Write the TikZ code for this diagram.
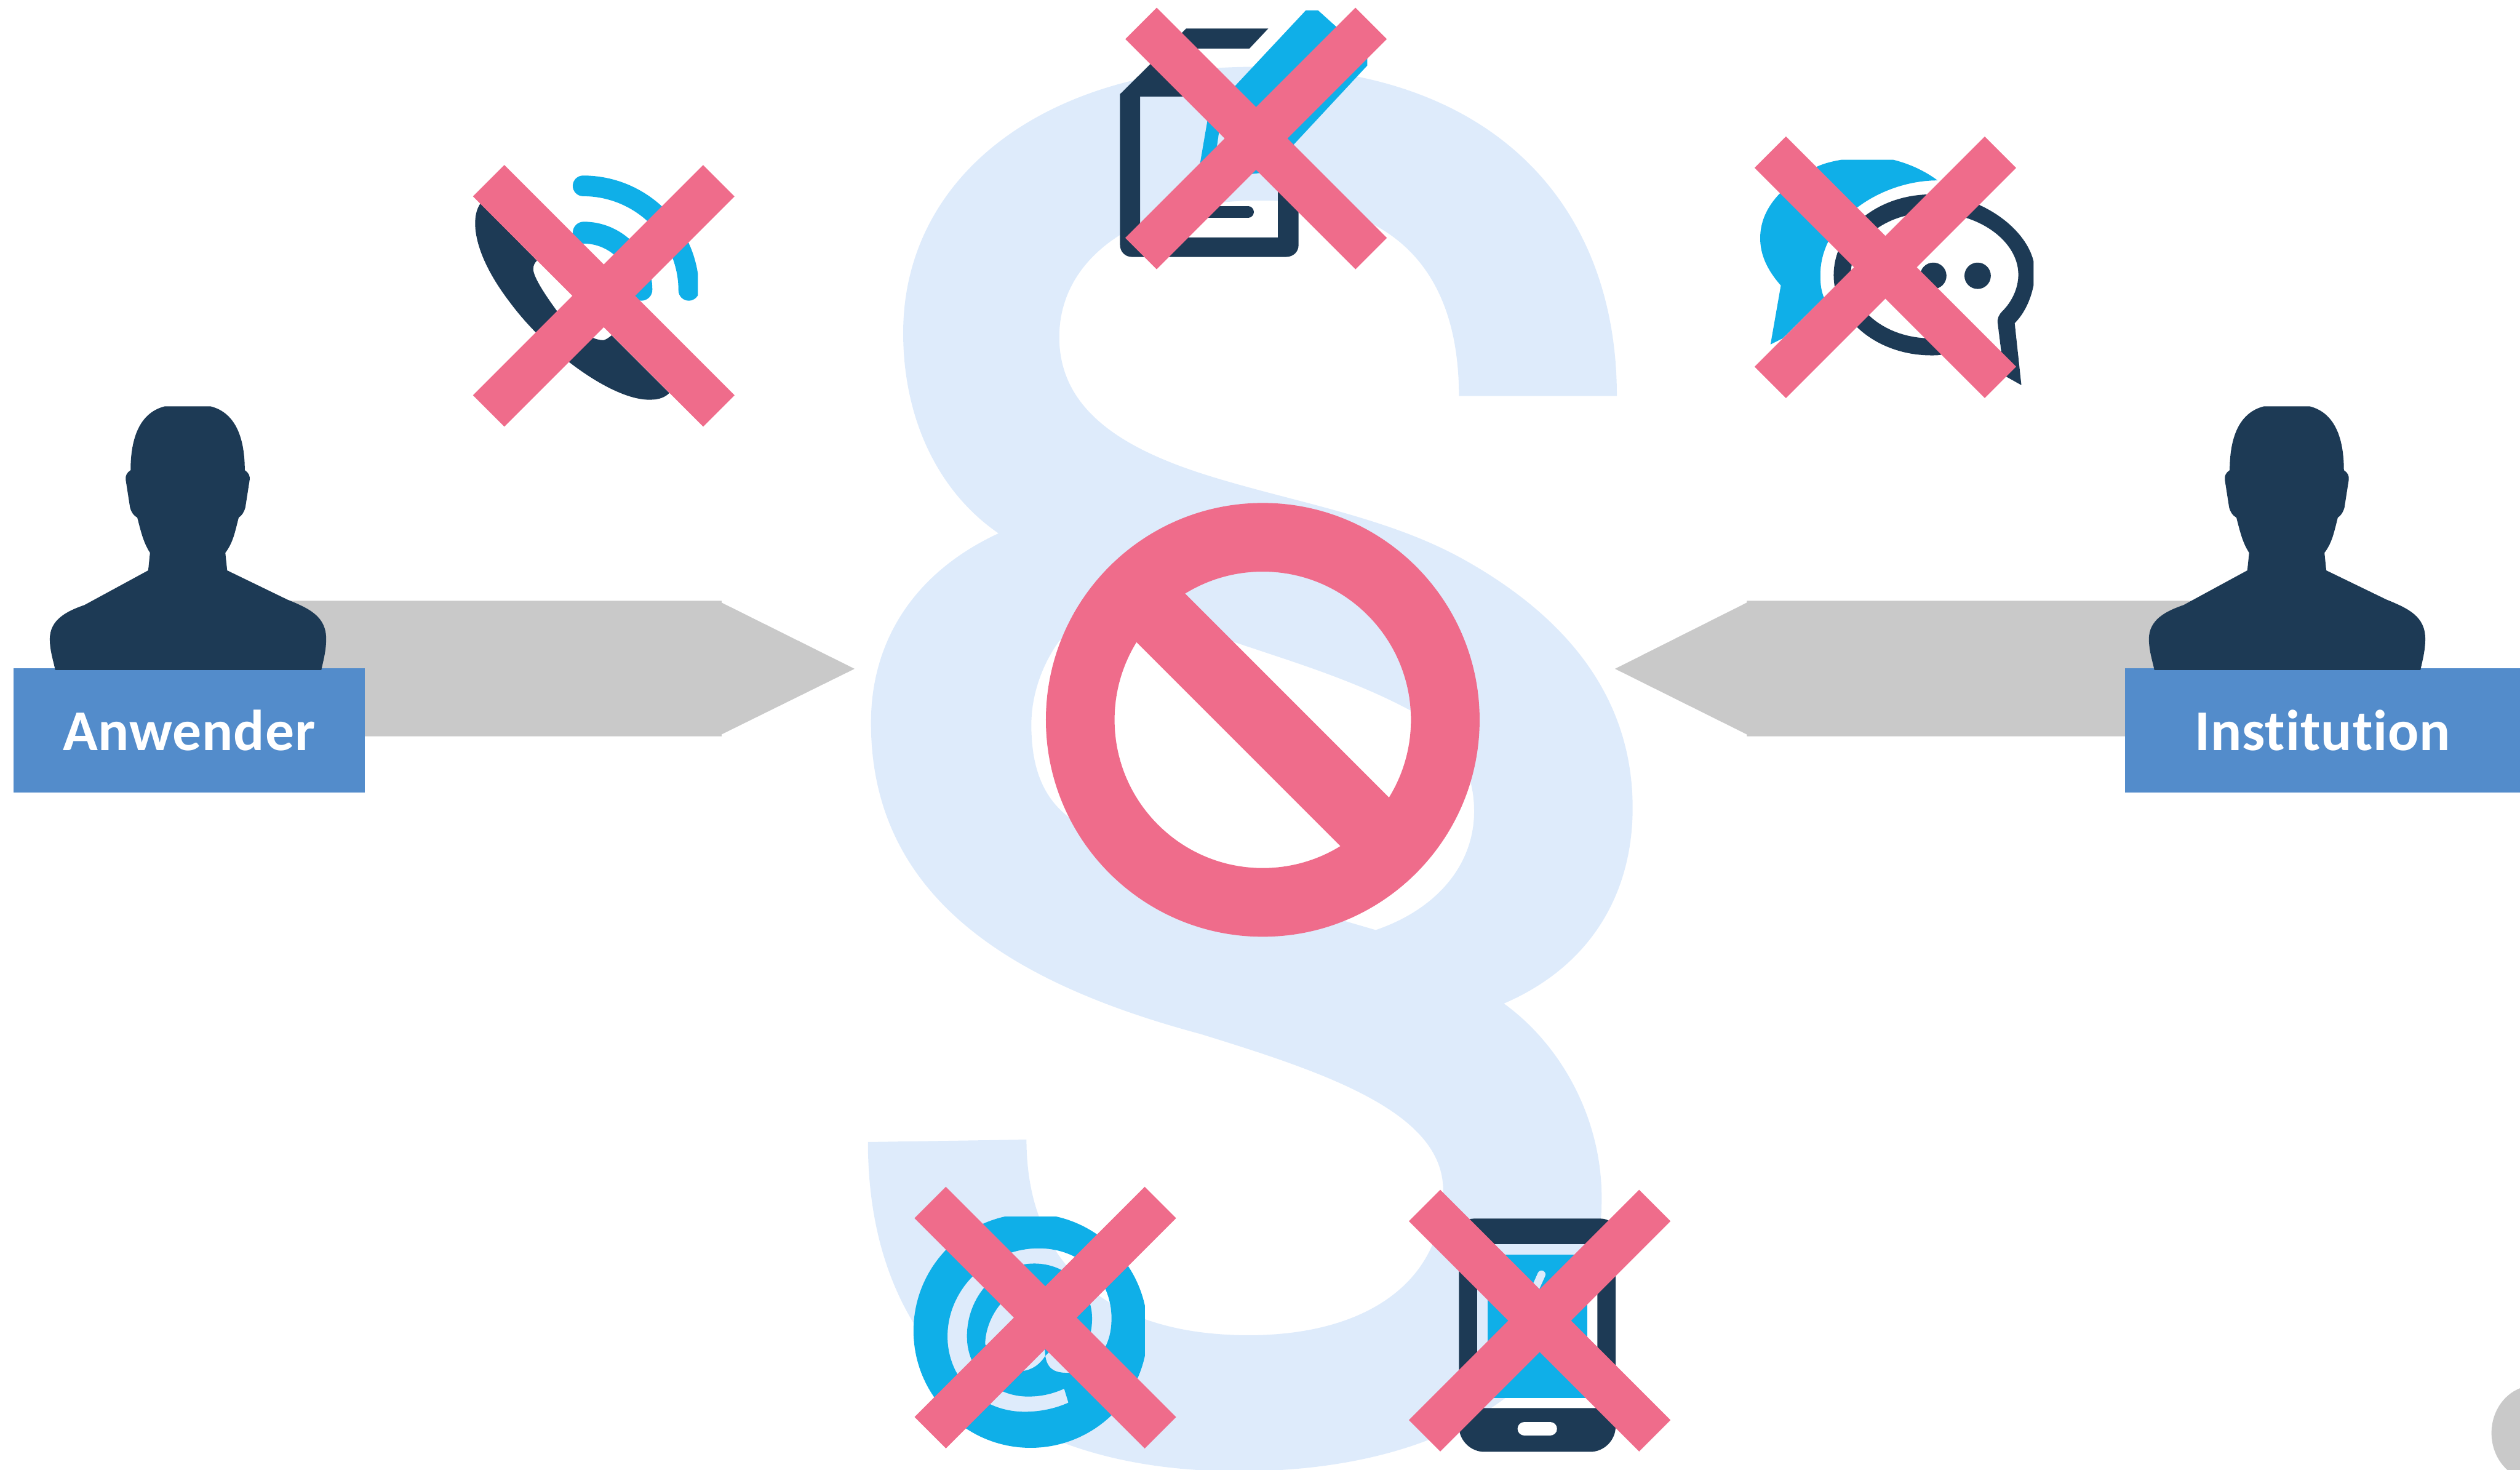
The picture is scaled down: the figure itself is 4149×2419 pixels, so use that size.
\documentclass[tikz,border=0pt]{standalone}
\usepackage{fontspec}
\setsansfont[Ligatures=NoCommon,LetterSpace=1]{Carlito}
\definecolor{navyink}{HTML}{1D3A55}
\definecolor{skyblue}{HTML}{0FAFE8}
\definecolor{stoppink}{HTML}{EF6C8B}
\definecolor{paralight}{HTML}{DEEBFB}
\definecolor{arrowgray}{HTML}{C9C9C9}
\definecolor{labelblue}{HTML}{538CCB}

\begin{document}
\begin{tikzpicture}[
  x=.01cm,
  y=-.01cm,
  font=\sffamily,
  labelbox/.style={fill=labelblue,text=white,inner sep=0pt,minimum height=2.05cm,
    font=\sffamily\bfseries\fontsize{27}{30}\selectfont},
  crossbar/.style={draw=stoppink,line width=.73cm},
  stopline/.style={draw=stoppink,line width=1.13cm},
  wave/.style={draw=skyblue,line cap=round}
]
\useasboundingbox (0,0) rectangle (4149,2419);
\clip (0,0) rectangle (4149,2419);

% Paragraph sign behind everything
\fill[paralight,even odd rule] (2662,652)
  .. controls (2662,330) and (2450,110) .. (2065,110)
  .. controls (1720,110) and (1487,290) .. (1487,548)
  .. controls (1487,690) and (1545,810) .. (1644,878)
  .. controls (1510,940) and (1434,1050) .. (1434,1190)
  .. controls (1434,1480) and (1670,1620) .. (1976,1702)
  .. controls (2180,1765) and (2376,1830) .. (2376,1959)
  .. controls (2376,2110) and (2250,2198) .. (2056,2198)
  .. controls (1810,2198) and (1690,2070) .. (1690,1876)
  -- (1429,1880)
  .. controls (1429,2230) and (1660,2422) .. (2039,2422)
  .. controls (2400,2422) and (2637,2260) .. (2637,1972)
  .. controls (2637,1840) and (2570,1720) .. (2476,1652)
  .. controls (2620,1590) and (2688,1470) .. (2688,1330)
  .. controls (2688,1140) and (2570,1010) .. (2408,920)
  .. controls (2280,849) and (2120,825) .. (1980,780)
  .. controls (1840,735) and (1744,670) .. (1744,555)
  .. controls (1744,420) and (1880,330) .. (2074,330)
  .. controls (2300,330) and (2402,450) .. (2402,652)
  -- cycle
  (2265,1531) .. controls (2370,1495) and (2427,1420) .. (2427,1336)
  .. controls (2427,1260) and (2390,1210) .. (2323,1170)
  .. controls (2230,1120) and (2130,1090) .. (2035,1058)
  .. controls (1940,1025) and (1800,1020) .. (1744,1055)
  .. controls (1715,1095) and (1698,1145) .. (1698,1193)
  .. controls (1698,1260) and (1715,1310) .. (1758,1344)
  .. controls (1850,1420) and (2050,1465) .. (2210,1515)
  -- cycle;

% Grey arrows
\fill[arrowgray] (400,989) -- (1188,989) -- (1188,992) -- (1407,1101) -- (1188,1209)
  -- (1188,1212) -- (400,1212) -- cycle;
\fill[arrowgray] (3700,989) -- (2876,989) -- (2876,992) -- (2659,1101) -- (2876,1209)
  -- (2876,1212) -- (3700,1212) -- cycle;

% Label boxes
\node[labelbox,minimum width=5.79cm] (anwender) at (311.5,1202.5) {Anwender};
\node[labelbox,minimum width=6.50cm] (institution) at (3824,1202.5) {Institution};

% Left person
\fill[navyink] (271,669) -- (347,669) .. controls (390,680) and (403,725) .. (403,774)
  .. controls (409,778) and (412,783) .. (411,790) -- (404,835)
  .. controls (402,843) and (398,849) .. (393,852) .. controls (387,875) and (384,893) .. (371,910)
  -- (374,939) .. controls (407,955) and (440,971) .. (473,987)
  .. controls (510,1002) and (537,1015) .. (537,1052) .. controls (537,1070) and (533,1085) .. (529,1103)
  -- (91,1103) .. controls (87,1085) and (82,1070) .. (82,1052)
  .. controls (82,1020) and (110,1006) .. (139,996) .. controls (174,977) and (209,958) .. (244,939)
  -- (247,910) .. controls (236,893) and (232,875) .. (226,852)
  .. controls (220,849) and (216,843) .. (214,835) -- (207,790)
  .. controls (206,783) and (209,778) .. (215,774) .. controls (215,725) and (228,680) .. (271,669) -- cycle;

% Right person
\begin{scope}[xshift=34.54cm]
\fill[navyink] (271,669) -- (347,669) .. controls (390,680) and (403,725) .. (403,774)
  .. controls (409,778) and (412,783) .. (411,790) -- (404,835)
  .. controls (402,843) and (398,849) .. (393,852) .. controls (387,875) and (384,893) .. (371,910)
  -- (374,939) .. controls (407,955) and (440,971) .. (473,987)
  .. controls (510,1002) and (537,1015) .. (537,1052) .. controls (537,1070) and (533,1085) .. (529,1103)
  -- (91,1103) .. controls (87,1085) and (82,1070) .. (82,1052)
  .. controls (82,1020) and (110,1006) .. (139,996) .. controls (174,977) and (209,958) .. (244,939)
  -- (247,910) .. controls (236,893) and (232,875) .. (226,852)
  .. controls (220,849) and (216,843) .. (214,835) -- (207,790)
  .. controls (206,783) and (209,778) .. (215,774) .. controls (215,725) and (228,680) .. (271,669) -- cycle;
\end{scope}

% Corner blob
\fill[arrowgray] (4172,2359) ellipse[x radius=70,y radius=78];

% Handset with waves
\fill[navyink] (791,335) .. controls (773,360) and (780,420) .. (839,497)
  .. controls (900,580) and (1010,660) .. (1071,658) .. controls (1085,658) and (1095,654) .. (1102,647)
  -- (1007,552) .. controls (1000,558) and (995,560) .. (993,560)
  .. controls (970,560) and (930,530) .. (917,512) .. controls (895,482) and (878,455) .. (878,443)
  .. controls (878,437) and (880,433) .. (884,429) -- cycle;
\begin{scope}
\clip (900,288) rectangle (1149,520);
\draw[wave,line width=.34cm] (960,306) .. controls (1056,306) and (1134,384) .. (1134,478);
\draw[wave,line width=.36cm] (961,383) .. controls (1013,383) and (1056,425) .. (1056,477);
\end{scope}

% Clipboard with pen
\fill[skyblue,even odd rule] (2150,17) -- (2170,17) -- (2251,90) -- (2251,108) -- (2130,238)
  -- (2073,285) -- (1971,297) -- (1988,198) -- (2033,142) -- cycle
  (2007,217) -- (2003,245) -- (2003,260) -- (2066,277) -- (2090,233) -- (2021,200) -- cycle;
\fill[navyink] (1844,155) -- (1953,47) -- (2088,47) -- (2057,80) -- (1959,80) -- (1959,159)
  -- (1877,159) -- (1877,391) -- (2104,391) -- (2104,310) -- (2138,343) -- (2138,403)
  .. controls (2138,415) and (2129,423) .. (2117,423) -- (1864,423)
  .. controls (1853,423) and (1844,415) .. (1844,403) -- cycle;
\draw[navyink,line width=.187cm,line cap=round] (1987,349) -- (2055,349);

% Chat bubbles
\fill[skyblue] (2915,567) -- (2932,470) .. controls (2910,445) and (2898,420) .. (2898,392)
  .. controls (2898,350) and (2925,310) .. (2990,275) .. controls (3005,268) and (3020,265) .. (3032,263)
  -- (3117,263) .. controls (3145,270) and (3170,282) .. (3190,297)
  .. controls (3100,297) and (2997,360) .. (2997,453) .. controls (2997,470) and (2999,480) .. (3003,490)
  -- (2935,557) -- cycle;
\fill[navyink,even odd rule] (3180,320) .. controls (3260,320) and (3335,375) .. (3348,430) -- (3348,470)
  .. controls (3343,495) and (3332,517) .. (3317,532) -- (3328,634) -- (3303,620) -- (3200,583)
  .. controls (3193,585) and (3187,585) .. (3180,585) .. controls (3090,585) and (3019,525) .. (3019,453)
  .. controls (3019,380) and (3090,320) .. (3180,320) -- cycle
  (3180,350) .. controls (3260,350) and (3323,398) .. (3323,452)
  .. controls (3323,475) and (3312,497) .. (3297,512) .. controls (3291,518) and (3288,524) .. (3289,532)
  -- (3295,580) -- (3180,557) .. controls (3105,557) and (3047,510) .. (3047,453)
  .. controls (3047,395) and (3105,350) .. (3180,350) -- cycle;
\fill[navyink] (3183,454) circle[radius=21.7];
\fill[navyink] (3256,454) circle[radius=21.7];

% At sign
\begin{scope}
\clip (1500,2003) rectangle (1885,2400);
\fill[skyblue,even odd rule] (1696.7,2190.7) circle[radius=192.7]
  (1759,2309) .. controls (1737,2319) and (1712,2324) .. (1687,2324)
  .. controls (1615,2324) and (1560,2270) .. (1560,2200)
  .. controls (1560,2120) and (1630,2055) .. (1710,2055)
  .. controls (1780,2055) and (1830,2105) .. (1830,2170)
  .. controls (1830,2190) and (1826,2205) .. (1820,2217) -- (1763,2260)
  .. controls (1745,2260) and (1725,2260) .. (1721,2232) -- (1747,2207) -- (1795,2197)
  .. controls (1797,2188) and (1798,2180) .. (1798,2170)
  .. controls (1798,2120) and (1755,2080) .. (1703,2080)
  .. controls (1640,2080) and (1592,2135) .. (1592,2200)
  .. controls (1592,2255) and (1635,2299) .. (1693,2299)
  .. controls (1715,2299) and (1735,2294) .. (1752,2286) -- cycle
  (1622,2213) .. controls (1622,2190) and (1632,2165) .. (1647,2147) -- (1713,2127) -- (1721,2232)
  .. controls (1712,2246) and (1700,2255) .. (1683,2257) -- (1640,2240) -- cycle;
\end{scope}

% Phone
\fill[navyink,even odd rule] (2427,2006) -- (2635,2006) .. controls (2650,2006) and (2660,2016) .. (2660,2031)
  -- (2660,2348) .. controls (2660,2371) and (2641,2390) .. (2618,2390) -- (2444,2390)
  .. controls (2421,2390) and (2402,2371) .. (2402,2348) -- (2402,2031)
  .. controls (2402,2016) and (2412,2006) .. (2427,2006) -- cycle
  (2432,2048) rectangle (2630,2318);
\fill[skyblue] (2449,2065) rectangle (2613,2301);
\draw[paralight,line width=.13cm,line cap=round] (2538,2098) -- (2525,2127);
\draw[white,line width=.23cm,line cap=round] (2510,2352) -- (2552,2352);

% Crosses over the icons
\draw[crossbar] (804.5,297.5) -- (1183.5,676.5);
\draw[crossbar] (804.5,676.5) -- (1183.5,297.5);
\draw[crossbar] (1878.5,38.5) -- (2257.5,417.5);
\draw[crossbar] (1878.5,417.5) -- (2257.5,38.5);
\draw[crossbar] (2914.5,250.5) -- (3293.5,629.5);
\draw[crossbar] (2914.5,629.5) -- (3293.5,250.5);
\draw[crossbar] (1531.5,1979.5) -- (1910.5,2358.5);
\draw[crossbar] (1531.5,2358.5) -- (1910.5,1979.5);
\draw[crossbar] (2345.5,1984.5) -- (2724.5,2363.5);
\draw[crossbar] (2345.5,2363.5) -- (2724.5,1984.5);

% Prohibition sign
\draw[stopline] (2079,1185) circle[radius=300.5];
\draw[stopline] (1867,973) -- (2291,1397);
\end{tikzpicture}
\end{document}
